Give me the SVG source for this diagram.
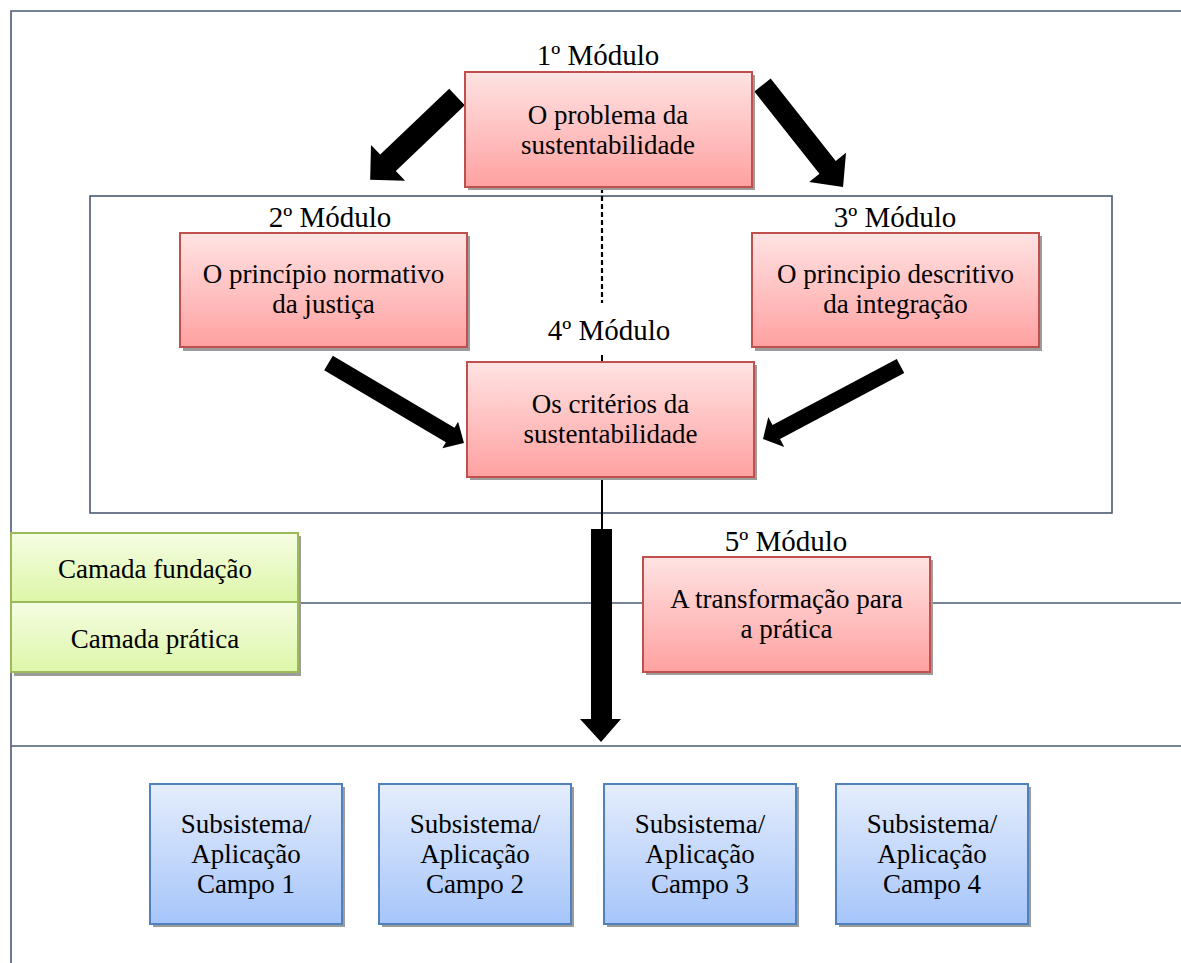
<svg xmlns="http://www.w3.org/2000/svg" width="1181" height="963" viewBox="0 0 1181 963" font-family="'Liberation Serif', 'Times New Roman', 'DejaVu Serif', serif">
<defs>
<linearGradient id="gRed" x1="0" y1="0" x2="0" y2="1">
<stop offset="0" stop-color="#FFE3E3"/><stop offset="1" stop-color="#FFA1A1"/>
</linearGradient>
<linearGradient id="gGreen" x1="0" y1="0" x2="0" y2="1">
<stop offset="0" stop-color="#F5FDE3"/><stop offset="1" stop-color="#DDF6A8"/>
</linearGradient>
<linearGradient id="gBlue" x1="0" y1="0" x2="0" y2="1">
<stop offset="0" stop-color="#E4EDFC"/><stop offset="1" stop-color="#A6C5FA"/>
</linearGradient>
<style>
text{font-family:'Liberation Serif','Times New Roman','DejaVu Serif',serif;fill:#000;text-anchor:middle}
.t{font-size:27px}
.lbl{font-size:29px}
.sh{fill:#9C9C9C}
.red{fill:url(#gRed);stroke:#C0504D;stroke-width:2}
.green{fill:url(#gGreen);stroke:#9BBB59;stroke-width:2}
.blue{fill:url(#gBlue);stroke:#4F81BD;stroke-width:2}
.frame{fill:none;stroke:#4A5A72;stroke-width:1.6}
.arr{fill:#000}
</style>
</defs>
<rect width="1181" height="963" fill="#fff"/>
<g id="frame">
<path class="frame" d="M11,963 V11 H1181"/>
<rect class="frame" x="90" y="196" width="1022" height="317"/>
<path class="frame" d="M298,603 H1181"/>
<path class="frame" d="M11,746 H1181"/>
</g>
<g id="connectors">
<path d="M602,188 V303" stroke="#000" stroke-width="2.2" stroke-dasharray="5,3" fill="none"/>
<path d="M602,355 V362" stroke="#000" stroke-width="2" fill="none"/>
<path d="M602,477 V530" stroke="#000" stroke-width="2" fill="none"/>
<path class="arr" d="M0,-11.3 L95.3,-11.3 L95.3,-24.7 L120,0 L95.3,24.7 L95.3,11.3 L0,11.3 Z" transform="translate(457,97) rotate(136.35)"/>
<path class="arr" d="M0,-10.4 L105,-10.4 L105,-23.5 L130,0 L105,23.5 L105,10.4 L0,10.4 Z" transform="translate(762.5,85) rotate(51.7)"/>
<path class="arr" d="M0,-8.5 L141.4,-8.5 L141.4,-15.5 L157.4,0 L141.4,15.5 L141.4,8.5 L0,8.5 Z" transform="translate(328.5,363) rotate(30.6)"/>
<path class="arr" d="M0,-8 L140.7,-8 L140.7,-17 L155.7,0 L140.7,17 L140.7,8 L0,8 Z" transform="translate(900.5,366) rotate(152)"/>
<path class="arr" d="M591,529 L612,529 L612,719 L621,719 L601,742 L580,719 L591,719 Z"/>
</g>
<g id="m1">
<text class="lbl" x="598" y="65">1º Módulo</text>
<rect class="sh" x="468" y="75" width="287" height="115"/>
<rect class="red" x="465" y="72" width="287" height="115"/>
<text class="t" x="608" y="124">O problema da</text>
<text class="t" x="608" y="154">sustentabilidade</text>
</g>
<g id="m2">
<text class="lbl" x="330" y="227">2º Módulo</text>
<rect class="sh" x="183" y="236" width="287" height="115"/>
<rect class="red" x="180" y="233" width="287" height="114"/>
<text class="t" x="323.5" y="283">O princípio normativo</text>
<text class="t" x="323.5" y="313">da justiça</text>
</g>
<g id="m3">
<text class="lbl" x="895" y="227">3º Módulo</text>
<rect class="sh" x="755" y="236" width="287" height="115"/>
<rect class="red" x="752" y="233" width="287" height="114"/>
<text class="t" x="895.5" y="283">O principio descritivo</text>
<text class="t" x="895.5" y="313">da integração</text>
</g>
<g id="m4">
<text class="lbl" x="609" y="340">4º Módulo</text>
<rect class="sh" x="470" y="365" width="287" height="115"/>
<rect class="red" x="467" y="362" width="287" height="115"/>
<text class="t" x="610.5" y="413">Os critérios da</text>
<text class="t" x="610.5" y="443">sustentabilidade</text>
</g>
<g id="m5">
<text class="lbl" x="786" y="551">5º Módulo</text>
<rect class="sh" x="646" y="560" width="287" height="115"/>
<rect class="red" x="643" y="557" width="287" height="115"/>
<text class="t" x="786.5" y="608">A transformação para</text>
<text class="t" x="786.5" y="638">a prática</text>
</g>
<g id="camadas">
<rect class="sh" x="14" y="536" width="287" height="140"/>
<rect class="green" x="11" y="533" width="287" height="69"/>
<rect class="green" x="11" y="602" width="287" height="70"/>
<text class="t" x="155" y="578">Camada fundação</text>
<text class="t" x="155" y="648">Camada prática</text>
</g>
<g id="campo1">
<rect class="sh" x="153" y="787" width="192" height="140"/>
<rect class="blue" x="150" y="784" width="192" height="140"/>
<text class="t" x="246" y="833">Subsistema/</text>
<text class="t" x="246" y="863">Aplicação</text>
<text class="t" x="246" y="893">Campo 1</text>
</g>
<g id="campo2">
<rect class="sh" x="382" y="787" width="192" height="140"/>
<rect class="blue" x="379" y="784" width="192" height="140"/>
<text class="t" x="475" y="833">Subsistema/</text>
<text class="t" x="475" y="863">Aplicação</text>
<text class="t" x="475" y="893">Campo 2</text>
</g>
<g id="campo3">
<rect class="sh" x="607" y="787" width="192" height="140"/>
<rect class="blue" x="604" y="784" width="192" height="140"/>
<text class="t" x="700" y="833">Subsistema/</text>
<text class="t" x="700" y="863">Aplicação</text>
<text class="t" x="700" y="893">Campo 3</text>
</g>
<g id="campo4">
<rect class="sh" x="839" y="787" width="192" height="140"/>
<rect class="blue" x="836" y="784" width="192" height="140"/>
<text class="t" x="932" y="833">Subsistema/</text>
<text class="t" x="932" y="863">Aplicação</text>
<text class="t" x="932" y="893">Campo 4</text>
</g>
</svg>
